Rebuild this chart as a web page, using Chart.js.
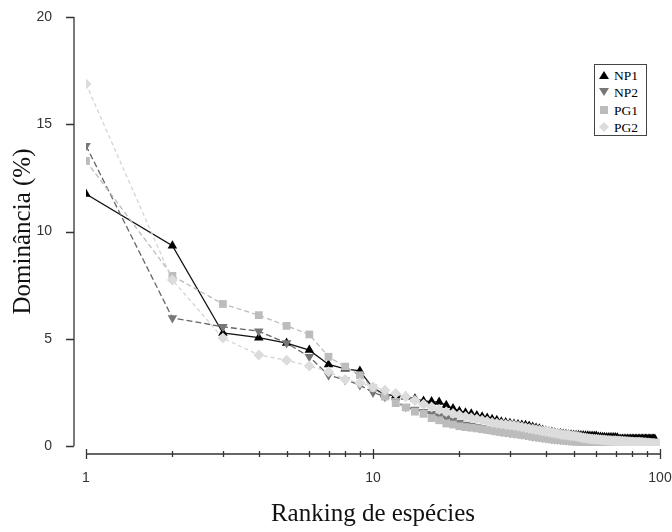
<!DOCTYPE html>
<html>
<head>
<meta charset="utf-8">
<script src="https://cdn.jsdelivr.net/npm/chart.js@4.4.1/dist/chart.umd.min.js"></script>
<style>
  body { margin: 0; background: #fff; }
  #wrap { position: relative; width: 672px; height: 532px; }
  #legend {
    position: absolute; left: 594px; top: 64px; width: 51px; height: 70px;
    border: 1.5px solid #444; background: #fff;
    font-family: "Liberation Serif", serif; font-size: 13.5px; color: #000;
  }
  #legend div { position: absolute; left: 0; height: 17px; line-height: 17px; }
  #legend svg { position: absolute; left: 4px; top: 3px; }
  #legend span { position: absolute; left: 19px; }
</style>
</head>
<body>
<div id="wrap">
  <canvas id="chart" width="672" height="532"></canvas>
  <div id="legend"></div>
</div>
<script>
// ranked dominance (%) per site, rank = index + 1
const seriesNames = ['NP1', 'NP2', 'PG1', 'PG2'];

const np1 = [
  11.75, 9.34, 5.27, 5.05, 4.8, 4.47, 3.8, 3.6, 3.5, 2.7,
  2.4, 2.35, 2.3, 2.2, 2.1, 2.07, 2.05, 1.9, 1.75, 1.62,
  1.55, 1.5, 1.42, 1.36, 1.3, 1.25, 1.2, 1.13, 1.1, 1.06,
  1.03, 1.0, 0.98, 0.97, 0.93, 0.88, 0.84, 0.8, 0.75, 0.7,
  0.67, 0.65, 0.62, 0.6, 0.58, 0.56, 0.55, 0.53, 0.52, 0.51,
  0.5, 0.5, 0.49, 0.49, 0.48, 0.48, 0.47, 0.47, 0.47, 0.47,
  0.42, 0.42, 0.41, 0.41, 0.4, 0.4, 0.4, 0.4, 0.4, 0.4,
  0.38, 0.33, 0.33, 0.33, 0.33, 0.33, 0.33, 0.33, 0.33, 0.33,
  0.33, 0.33, 0.33, 0.33, 0.33, 0.33, 0.33, 0.33, 0.33, 0.33,
  0.33, 0.33, 0.33, 0.33, 0.33, 0.33
];

const np2 = [
  14.0, 5.97, 5.56, 5.35, 4.8, 4.16, 3.3, 3.08, 2.84, 2.5,
  2.3, 2.07, 1.83, 1.7, 1.6, 1.5, 1.4, 1.3, 1.2, 1.1,
  1.0, 0.95, 0.9, 0.85, 0.8, 0.76, 0.72, 0.68, 0.65, 0.62,
  0.6, 0.58, 0.55, 0.53, 0.5, 0.46, 0.44, 0.42, 0.4, 0.38,
  0.36, 0.34, 0.33, 0.31, 0.3, 0.29, 0.28, 0.27, 0.26, 0.25,
  0.24, 0.24, 0.23, 0.23, 0.22, 0.22, 0.21, 0.21, 0.2, 0.2,
  0.2, 0.19, 0.19, 0.19, 0.19, 0.18, 0.18, 0.18, 0.18, 0.17,
  0.17, 0.17, 0.17, 0.16, 0.16, 0.16, 0.16, 0.15, 0.15, 0.15
];

const pg1 = [
  13.29, 7.93, 6.62, 6.1, 5.6, 5.2, 4.16, 3.7, 3.3, 2.7,
  2.3, 2.0, 1.8, 1.6, 1.5, 1.3, 1.2, 1.05, 1.0, 0.92,
  0.88, 0.85, 0.82, 0.78, 0.75, 0.72, 0.68, 0.65, 0.62, 0.6,
  0.57, 0.55, 0.52, 0.5, 0.47, 0.43, 0.41, 0.39, 0.37, 0.35,
  0.33, 0.31, 0.3, 0.28, 0.27, 0.26, 0.25, 0.24, 0.23, 0.22,
  0.21, 0.21, 0.2, 0.2, 0.2, 0.19, 0.19, 0.19, 0.18, 0.18,
  0.17, 0.17, 0.17, 0.17, 0.17, 0.17, 0.17, 0.17, 0.17, 0.17,
  0.15, 0.15, 0.15, 0.15, 0.15, 0.15, 0.15, 0.15, 0.15, 0.15,
  0.12, 0.12, 0.12, 0.12, 0.12, 0.12, 0.12, 0.12, 0.12, 0.12
];

const pg2 = [
  16.88, 7.74, 5.03, 4.24, 4.0, 3.73, 3.46, 3.1, 2.95, 2.75,
  2.6, 2.45, 2.3, 2.12, 1.95, 1.82, 1.7, 1.6, 1.52, 1.45,
  1.38, 1.32, 1.26, 1.2, 1.15, 1.1, 1.06, 1.02, 1.0, 0.98,
  0.95, 0.92, 0.88, 0.85, 0.82, 0.79, 0.76, 0.73, 0.7, 0.68,
  0.65, 0.62, 0.6, 0.58, 0.55, 0.53, 0.51, 0.5, 0.48, 0.47,
  0.45, 0.43, 0.41, 0.39, 0.37, 0.35, 0.34, 0.33, 0.32, 0.31,
  0.3, 0.29, 0.28, 0.28, 0.27, 0.26, 0.26, 0.25, 0.24, 0.24,
  0.23, 0.23, 0.22, 0.22, 0.21, 0.21, 0.2, 0.2, 0.19, 0.19,
  0.18, 0.18, 0.17, 0.17, 0.17, 0.16, 0.16, 0.15, 0.15, 0.14,
  0.14, 0.13, 0.13, 0.12, 0.12, 0.12, 0.11, 0.11, 0.1, 0.1
];

const yTicks = [0, 5, 10, 15, 20];
const xMajor = [1, 10, 100];

function toPoints(arr) {
  return arr.map((v, i) => ({ x: i + 1, y: v }));
}

const styles = [
  { data: np1, line: '#111', dash: [], point: '#000', shape: 'triangle', rot: 0, r: 5.5, order: 4 },
  { data: np2, line: '#666', dash: [6, 3], point: '#777', shape: 'triangle', rot: 180, r: 5.5, order: 3 },
  { data: pg1, line: '#bbb', dash: [5, 3], point: '#bcbcbc', shape: 'rect', rot: 0, r: 5.5, order: 2 },
  { data: pg2, line: '#d4d4d4', dash: [4, 3], point: '#dcdcdc', shape: 'rectRot', rot: 0, r: 5.5, order: 1 }
];

// axes are offset from the plot area, so draw them by hand
const offsetAxes = {
  id: 'offsetAxes',
  afterDraw(chart) {
    const ctx = chart.ctx;
    const xs = chart.scales.x, ys = chart.scales.y;
    const ax = xs.left - 12;
    const ay = ys.bottom + 8;
    ctx.save();
    ctx.strokeStyle = '#333';
    ctx.lineWidth = 1.3;
    ctx.beginPath();
    ctx.moveTo(ax, ys.getPixelForValue(20));
    ctx.lineTo(ax, ys.getPixelForValue(0));
    yTicks.forEach(t => {
      const py = Math.round(ys.getPixelForValue(t)) + 0.5;
      ctx.moveTo(ax - 8, py);
      ctx.lineTo(ax, py);
    });
    ctx.moveTo(xs.getPixelForValue(1), ay);
    ctx.lineTo(xs.getPixelForValue(100), ay);
    for (let d = 1; d <= 100; d *= 10) {
      for (let k = 1; k < 10; k++) {
        const v = d * k;
        if (v > 100) break;
        const px = Math.round(xs.getPixelForValue(v)) + 0.5;
        if (k === 1) {
          ctx.moveTo(px, ay - 5);
          ctx.lineTo(px, ay + 5);
        } else {
          ctx.moveTo(px, ay - 3);
          ctx.lineTo(px, ay + 3);
        }
      }
    }
    ctx.stroke();
    ctx.restore();
  }
};

// keep label overhang from pushing the plot area in
function fixSize(s, key, val) {
  s[key] = val;
  s.paddingTop = 0;
  s.paddingBottom = 0;
  s.paddingLeft = 0;
  s.paddingRight = 0;
}

const tickFont = { family: 'Liberation Sans', size: 14 };
const titleFont = { family: 'Liberation Serif', size: 25 };

new Chart(document.getElementById('chart'), {
  type: 'line',
  data: {
    datasets: styles.map((s, i) => ({
      label: seriesNames[i],
      data: toPoints(s.data),
      order: s.order,
      borderColor: s.line,
      borderWidth: 1.3,
      borderDash: s.dash,
      pointStyle: s.shape,
      rotation: s.rot,
      pointRadius: s.r,
      pointBackgroundColor: s.point,
      pointBorderColor: s.point,
      pointBorderWidth: 0,
      tension: 0
    }))
  },
  options: {
    responsive: false,
    animation: false,
    layout: { padding: { top: 17, right: 12, left: 0, bottom: 0 } },
    plugins: { legend: { display: false }, tooltip: { enabled: false } },
    scales: {
      x: {
        type: 'logarithmic',
        min: 1,
        max: 100,
        grid: { display: false },
        border: { display: false },
        ticks: {
          autoSkip: false,
          maxRotation: 0,
          padding: 16,
          color: '#333',
          font: tickFont,
          callback: v => xMajor.includes(v) ? String(v) : ''
        },
        title: { display: true, text: 'Ranking de espécies', color: '#111', font: titleFont, padding: { top: 0, bottom: 3 } },
        afterFit: s => fixSize(s, 'height', 86)
      },
      y: {
        min: 0,
        max: 20,
        grid: { display: false },
        border: { display: false },
        ticks: { stepSize: 5, padding: 26, color: '#333', font: tickFont },
        title: { display: true, text: 'Dominância (%)', color: '#111', font: titleFont, padding: { top: 8, bottom: 0 } },
        afterFit: s => fixSize(s, 'width', 86)
      }
    }
  },
  plugins: [offsetAxes]
});

// legend box
const legendIcons = [
  '<polygon points="0,9 5,1 10,9" fill="#000"/>',
  '<polygon points="0,1 10,1 5,9" fill="#777"/>',
  '<rect x="1" y="1" width="8" height="8" fill="#bcbcbc"/>',
  '<polygon points="5,0 10,5 5,10 0,5" fill="#dcdcdc"/>'
];
const legend = document.getElementById('legend');
seriesNames.forEach((name, i) => {
  const row = document.createElement('div');
  row.style.top = (2 + i * 17.3) + 'px';
  row.innerHTML = '<svg width="10" height="10">' + legendIcons[i] + '</svg><span>' + name + '</span>';
  legend.appendChild(row);
});
</script>
</body>
</html>
